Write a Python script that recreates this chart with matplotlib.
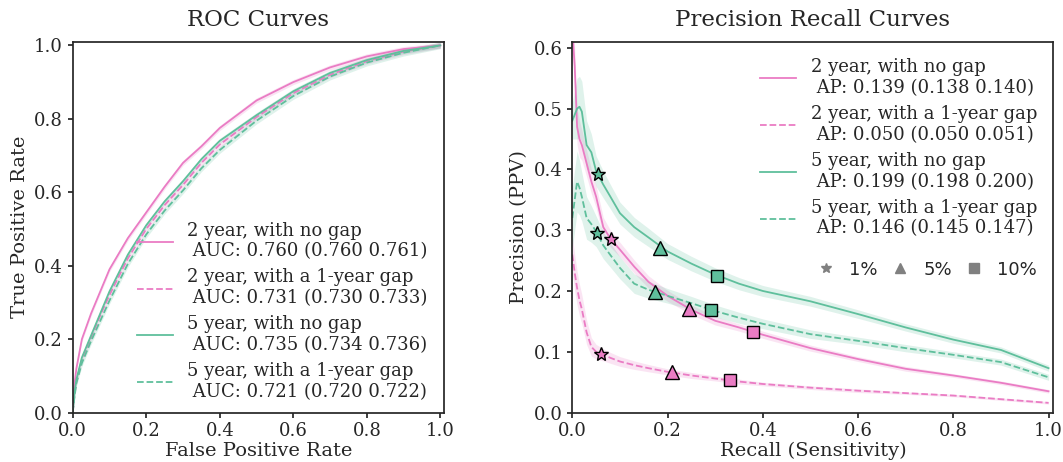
import matplotlib
matplotlib.use('Agg')
import matplotlib.pyplot as plt
from matplotlib.lines import Line2D
import numpy as np

plt.rcParams['font.family'] = 'DejaVu Serif'
plt.rcParams['axes.edgecolor'] = '#262626'
plt.rcParams['axes.linewidth'] = 1.25
plt.rcParams['xtick.color'] = '#262626'
plt.rcParams['ytick.color'] = '#262626'
plt.rcParams['text.color'] = '#262626'
plt.rcParams['axes.labelcolor'] = '#262626'

PINK = '#ea7cc4'
GREEN = '#5fbf9c'

series_names = ['2 year, with no gap', '2 year, with a 1-year gap',
                '5 year, with no gap', '5 year, with a 1-year gap']
series_colors = [PINK, PINK, GREEN, GREEN]
series_styles = ['-', '--', '-', '--']

auc_text = ['0.760 (0.760 0.761)', '0.731 (0.730 0.733)',
            '0.735 (0.734 0.736)', '0.721 (0.720 0.722)']
ap_text = ['0.139 (0.138 0.140)', '0.050 (0.050 0.051)',
           '0.199 (0.198 0.200)', '0.146 (0.145 0.147)']

# ROC curves
fpr = [0, 0.005, 0.01, 0.025, 0.05, 0.075, 0.1, 0.15, 0.2, 0.25, 0.3, 0.35,
       0.4, 0.5, 0.6, 0.7, 0.8, 0.9, 1.0]
tpr_2y = [0, 0.08, 0.12, 0.2, 0.27, 0.33, 0.39, 0.475, 0.545, 0.615, 0.68,
          0.725, 0.775, 0.85, 0.9, 0.94, 0.97, 0.99, 1.0]
tpr_2y_gap = [0, 0.05, 0.085, 0.145, 0.205, 0.265, 0.32, 0.42, 0.5, 0.565,
              0.62, 0.68, 0.73, 0.805, 0.87, 0.92, 0.957, 0.983, 1.0]
tpr_5y = [0, 0.055, 0.09, 0.15, 0.21, 0.27, 0.33, 0.43, 0.51, 0.575, 0.63,
          0.69, 0.74, 0.81, 0.875, 0.925, 0.96, 0.985, 1.0]
tpr_5y_gap = [0, 0.045, 0.08, 0.135, 0.195, 0.25, 0.305, 0.405, 0.485, 0.55,
              0.605, 0.665, 0.715, 0.795, 0.862, 0.915, 0.953, 0.98, 1.0]
roc_ci = [0.007, 0.008, 0.007, 0.009]

# precision recall curves
recall = [0, 0.005, 0.01, 0.015, 0.02, 0.03, 0.04, 0.05, 0.065, 0.08, 0.1,
          0.13, 0.16, 0.2, 0.25, 0.3, 0.35, 0.4, 0.5, 0.6, 0.7, 0.8, 0.9, 1.0]
prec_2y = [0.63, 0.57, 0.47, 0.45, 0.44, 0.41, 0.38, 0.355, 0.305, 0.286,
           0.268, 0.24, 0.215, 0.192, 0.169, 0.151, 0.14, 0.128, 0.106,
           0.088, 0.072, 0.061, 0.049, 0.035]
prec_2y_gap = [0.26, 0.23, 0.205, 0.185, 0.17, 0.132, 0.108, 0.1, 0.095,
               0.09, 0.084, 0.078, 0.073, 0.067, 0.061, 0.056, 0.051, 0.047,
               0.041, 0.036, 0.032, 0.028, 0.022, 0.016]
prec_5y = [0.48, 0.49, 0.5, 0.503, 0.495, 0.44, 0.428, 0.397, 0.375, 0.355,
           0.328, 0.305, 0.288, 0.265, 0.245, 0.227, 0.212, 0.2, 0.183,
           0.162, 0.14, 0.12, 0.103, 0.073]
prec_5y_gap = [0.32, 0.35, 0.38, 0.37, 0.355, 0.32, 0.31, 0.298, 0.275,
               0.259, 0.238, 0.212, 0.202, 0.192, 0.18, 0.167, 0.156, 0.146,
               0.129, 0.118, 0.106, 0.095, 0.083, 0.058]
ci_2y = [0.03, 0.03, 0.03, 0.03, 0.025, 0.022, 0.02, 0.018, 0.016, 0.014,
         0.012, 0.011, 0.01, 0.009, 0.008, 0.007, 0.006, 0.006, 0.005, 0.004,
         0.004, 0.003, 0.003, 0.003]
ci_2y_gap = [0.03, 0.03, 0.028, 0.026, 0.024, 0.02, 0.015, 0.012, 0.01,
             0.009, 0.008, 0.007, 0.006, 0.005, 0.005, 0.004, 0.004, 0.003,
             0.003, 0.003, 0.002, 0.002, 0.002, 0.002]
ci_5y = [0.03, 0.04, 0.05, 0.05, 0.05, 0.04, 0.03, 0.025, 0.022, 0.02,
         0.018, 0.016, 0.015, 0.013, 0.012, 0.011, 0.01, 0.009, 0.008,
         0.007, 0.006, 0.006, 0.005, 0.005]
ci_5y_gap = [0.05, 0.05, 0.05, 0.045, 0.04, 0.035, 0.03, 0.025, 0.022,
             0.02, 0.018, 0.016, 0.014, 0.012, 0.011, 0.01, 0.009, 0.008,
             0.007, 0.006, 0.006, 0.005, 0.005, 0.005]

# operating points at top 1%, 5%, 10%
pct_labels = ['1%', '5%', '10%']
pct_markers = ['*', '^', 's']
pct_sizes = [10, 10, 9]
mark_recall = [[0.082, 0.246, 0.379], [0.061, 0.209, 0.331],
               [0.054, 0.184, 0.304], [0.052, 0.173, 0.292]]
mark_prec = [[0.286, 0.171, 0.133], [0.097, 0.066, 0.053],
             [0.393, 0.270, 0.225], [0.296, 0.199, 0.169]]

tprs = [tpr_2y, tpr_2y_gap, tpr_5y, tpr_5y_gap]
precs = [prec_2y, prec_2y_gap, prec_5y, prec_5y_gap]
cis = [ci_2y, ci_2y_gap, ci_5y, ci_5y_gap]

fig = plt.figure(figsize=(10.63, 4.62), dpi=100)
ax1 = fig.add_axes([0.0684, 0.107, 0.3493, 0.8027])
ax2 = fig.add_axes([0.5384, 0.107, 0.4525, 0.8027])

for i in range(4):
    t = np.array(tprs[i])
    ax1.fill_between(fpr, t - roc_ci[i], t + roc_ci[i], color=series_colors[i],
                     alpha=0.2, lw=0)
    ax1.plot(fpr, t, color=series_colors[i], ls=series_styles[i], lw=1.3,
             label=series_names[i] + '\n AUC: ' + auc_text[i])

for i in range(4):
    p = np.array(precs[i])
    c = np.array(cis[i])
    ax2.fill_between(recall, p - c, p + c, color=series_colors[i],
                     alpha=0.2, lw=0)
    ax2.plot(recall, p, color=series_colors[i], ls=series_styles[i], lw=1.3,
             label=series_names[i] + '\n AP: ' + ap_text[i])
    for k in range(3):
        ax2.plot(mark_recall[i][k], mark_prec[i][k], marker=pct_markers[k],
                 ms=pct_sizes[k], mfc=series_colors[i], mec='black', mew=1,
                 ls='none', zorder=5)

for ax in (ax1, ax2):
    ax.tick_params(direction='out', length=3.5, width=1.25, pad=3.5,
                   labelsize=13, top=False, right=False)
    ax.set_xlim(0, 1.01)
    ax.set_xticks([0, 0.2, 0.4, 0.6, 0.8, 1.0])

ax1.set_ylim(0, 1.01)
ax1.set_yticks([0, 0.2, 0.4, 0.6, 0.8, 1.0])
ax2.set_ylim(0, 0.61)
ax2.set_yticks([0, 0.1, 0.2, 0.3, 0.4, 0.5, 0.6])

ax1.set_title('ROC Curves', fontsize=16.5, pad=11)
ax1.set_xlabel('False Positive Rate', fontsize=14, labelpad=1)
ax1.set_ylabel('True Positive Rate', fontsize=14)
ax2.set_title('Precision Recall Curves', fontsize=16.5, pad=11)
ax2.set_xlabel('Recall (Sensitivity)', fontsize=14, labelpad=1)
ax2.set_ylabel('Precision (PPV)', fontsize=14)

ax1.legend(loc='lower right', frameon=False, fontsize=13, labelspacing=0.45,
           bbox_to_anchor=(1.0, -0.013))
leg = ax2.legend(loc='upper right', frameon=False, fontsize=13,
                 labelspacing=0.45)
ax2.add_artist(leg)

handles = [Line2D([], [], marker=pct_markers[k], ls='none', color='gray',
                  ms=7) for k in range(3)]
ax2.legend(handles, pct_labels, loc='center right', ncol=3, frameon=False,
           bbox_to_anchor=(1.0, 0.385), handlelength=1, handletextpad=0.77,
           columnspacing=0.75, prop={'family': 'DejaVu Sans', 'size': 13})

fig.savefig('out.png', dpi=100)
